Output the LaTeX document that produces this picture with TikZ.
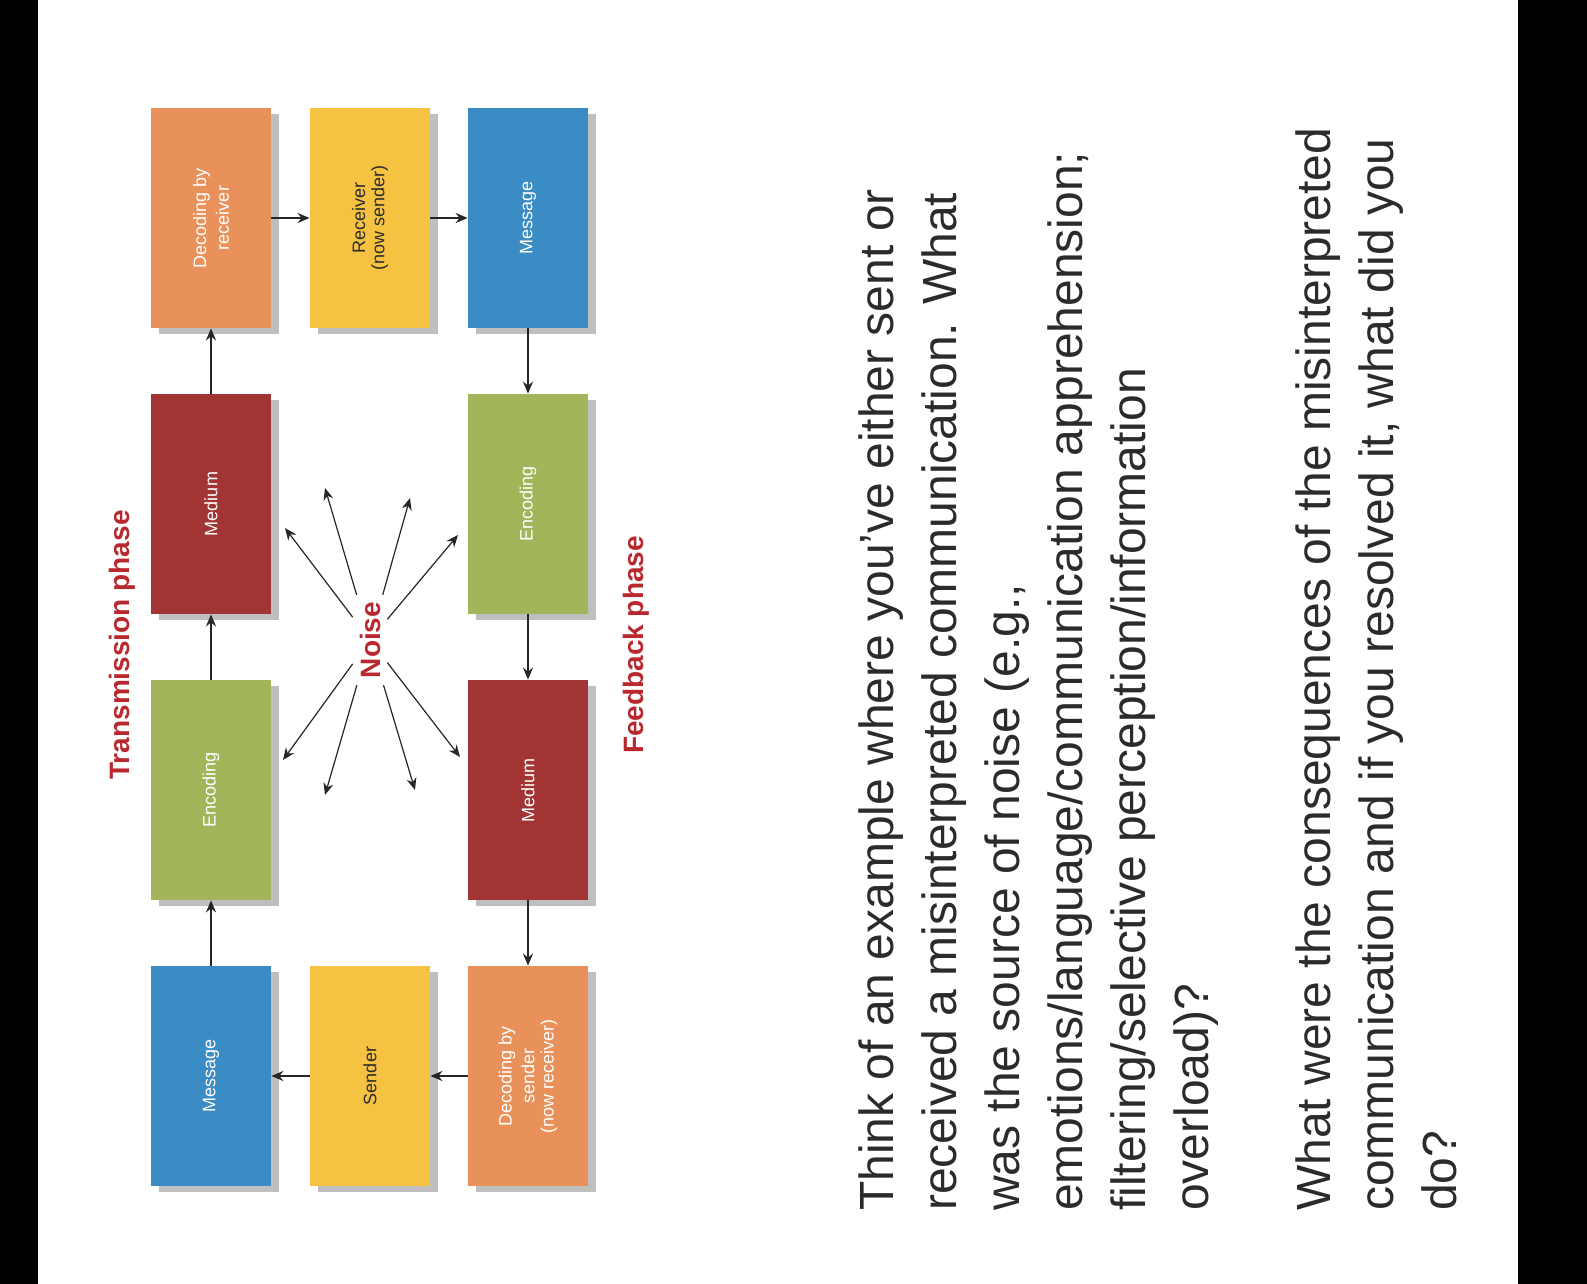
\documentclass[tikz,border=0pt]{standalone}
\usepackage{fontspec}
\setmainfont{Liberation Sans}
\usetikzlibrary{arrows.meta}
\definecolor{cor}{HTML}{E8915A}
\definecolor{cye}{HTML}{F5C242}
\definecolor{cbl}{HTML}{3B8BC4}
\definecolor{cre}{HTML}{A33434}
\definecolor{cgr}{HTML}{A3B55A}
\definecolor{ctx}{HTML}{2B2B2B}
\definecolor{cph}{HTML}{B8292F}
\tikzset{
 bx/.style={minimum width=60pt,minimum height=110pt,inner sep=2pt,font=\fontsize{9}{10}\selectfont,align=center,text=white,
   preaction={fill=black!25,transform canvas={xshift=4pt,yshift=-3pt}}},
 ar/.style={-{Stealth[length=6pt,width=5pt]},thick,black!85},
 ph/.style={rotate=90,text=cph,font=\bfseries\fontsize{14}{16}\selectfont}
}
\begin{document}
\begin{tikzpicture}[x=0.5pt,y=-0.5pt]
\useasboundingbox (0,0) rectangle (1587,1284);
\fill[white] (0,0) rectangle (1587,1284);
\fill[black] (0,0) rectangle (38,1284);
\fill[black] (1518,0) rectangle (1587,1284);
\node[bx,fill=cor] (d1) at (211,218) {\rotatebox{90}{\shortstack{Decoding by\\receiver}}};
\node[bx,fill=cye,text=ctx] (r1) at (370,218) {\rotatebox{90}{\shortstack{Receiver\\(now sender)}}};
\node[bx,fill=cbl] (m2) at (528,218) {\rotatebox{90}{Message}};
\node[bx,fill=cre] (md1) at (211,504) {\rotatebox{90}{Medium}};
\node[bx,fill=cgr] (e2) at (528,504) {\rotatebox{90}{Encoding}};
\node[bx,fill=cgr] (e1) at (211,790) {\rotatebox{90}{Encoding}};
\node[bx,fill=cre] (md2) at (528,790) {\rotatebox{90}{Medium}};
\node[bx,fill=cbl] (m1) at (211,1076) {\rotatebox{90}{Message}};
\node[bx,fill=cye,text=ctx] (s1) at (370,1076) {\rotatebox{90}{Sender}};
\node[bx,fill=cor] (d2) at (528,1076) {\rotatebox{90}{\shortstack{Decoding by\\sender\\(now receiver)}}};
\draw[ar] (m1) -- (e1); \draw[ar] (e1) -- (md1); \draw[ar] (md1) -- (d1);
\draw[ar] (d1) -- (r1); \draw[ar] (r1) -- (m2);
\draw[ar] (m2) -- (e2); \draw[ar] (e2) -- (md2); \draw[ar] (md2) -- (d2);
\draw[ar] (d2) -- (s1); \draw[ar] (s1) -- (m1);
\node[ph] (tp) at (122,645) {Transmission phase};
\node[ph] (fp) at (636,645) {Feedback phase};
\node[ph] (nz) at (370,640) {Noise};
\foreach \p/\q in {285/528,325/488,410/498,458/535,283/760,325/795,415/790,460/757}{
 \coordinate (t) at (\p,\q);
 \draw[ar,semithick] (nz) -- (t);}
\node[rotate=90,anchor=north west,align=left,text=ctx,font=\fontsize{24}{31.5}\selectfont] (q1) at (852,1218) {Think of an example where you've either sent or\\received a misinterpreted communication. What\\was the source of noise (e.g.,\\emotions/language/communication apprehension;\\filtering/selective perception/information\\overload)?};
\node[rotate=90,anchor=north west,align=left,text=ctx,font=\fontsize{24}{31.5}\selectfont] (q2) at (1289,1218) {What were the consequences of the misinterpreted\\communication and if you resolved it, what did you\\do?};
\end{tikzpicture}
\end{document}
